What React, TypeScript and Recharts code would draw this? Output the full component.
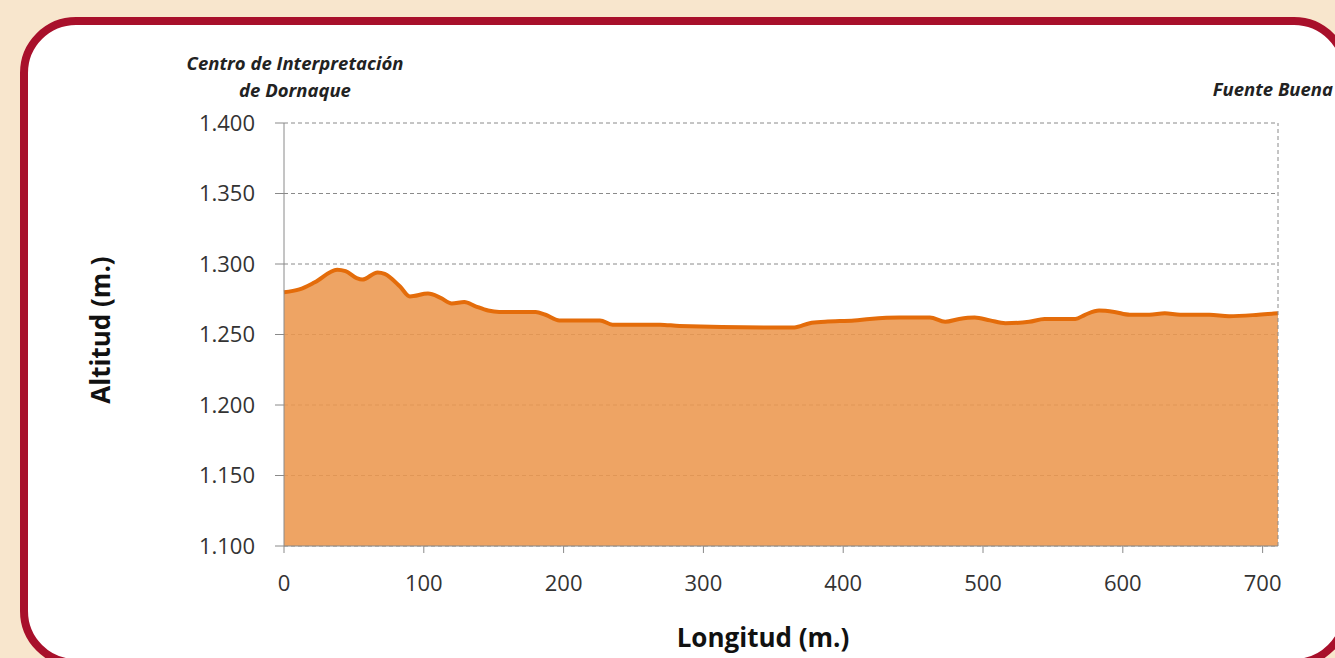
import {
  AreaChart,
  Area,
  XAxis,
  YAxis,
  CartesianGrid,
  ReferenceLine,
} from "recharts";

// distance along the route (m.)
const distance = [
  0, 11, 22, 38, 44, 52, 56, 67, 72, 83, 90, 103, 112, 120, 129, 137, 146,
  154, 180, 187, 197, 226, 235, 269, 283, 355, 365, 376, 387, 408, 419, 440,
  462, 473, 483, 494, 505, 516, 533, 544, 566, 573, 583, 594, 605, 619, 630,
  641, 662, 676, 697, 711,
];

// altitude at each point (m.)
const altitude = [
  1280, 1282, 1287, 1296, 1295, 1290, 1289, 1294, 1293, 1284, 1277, 1279,
  1276, 1272, 1273, 1270, 1267, 1266, 1266, 1264, 1260, 1260, 1257, 1257,
  1256, 1255, 1255, 1258, 1259, 1260, 1261, 1262, 1262, 1259, 1261, 1262,
  1260, 1258, 1259, 1261, 1261, 1264, 1267, 1266, 1264, 1264, 1265, 1264,
  1264, 1263, 1264, 1265,
];

const xTicks = [0, 100, 200, 300, 400, 500, 600, 700];
const yTicks = [1100, 1150, 1200, 1250, 1300, 1350, 1400];

const data = distance.map((d, i) => ({ d, alt: altitude[i] }));

const fmtThousands = (v: number) =>
  String(v).replace(/\B(?=(\d{3})+(?!\d))/g, ".");

const font = "'Open Sans', sans-serif";

export default function App() {
  return (
    <div
      style={{
        position: "absolute",
        left: 0,
        top: 0,
        width: 1335,
        height: 658,
        background: "#F8E6CD",
        overflow: "hidden",
        fontFamily: font,
      }}
    >
      <div
        style={{
          position: "absolute",
          left: 20,
          top: 17,
          width: 1330,
          height: 650,
          boxSizing: "border-box",
          border: "8px solid #A8102B",
          borderRadius: 56,
          background: "#fff",
        }}
      />

      <div style={{ position: "absolute", left: 0, top: 0 }}>
        <AreaChart
          width={1335}
          height={658}
          data={data}
          margin={{ top: 123, right: 57, bottom: 62, left: 0 }}
        >
          <CartesianGrid
            vertical={false}
            stroke="#8a8a8a"
            strokeDasharray="4 3"
          />
          <XAxis
            dataKey="d"
            type="number"
            domain={[0, 711]}
            ticks={xTicks}
            axisLine={{ stroke: "#8a8a8a" }}
            tickLine={{ stroke: "#8a8a8a" }}
            tickSize={7}
            tickMargin={22}
            tick={{ fill: "#333", fontSize: 22, fontFamily: font }}
            height={50}
          />
          <YAxis
            type="number"
            domain={[1100, 1400]}
            ticks={yTicks}
            tickFormatter={fmtThousands}
            axisLine={{ stroke: "#8a8a8a" }}
            tickLine={{ stroke: "#8a8a8a" }}
            tickSize={9}
            tickMargin={20}
            tick={{ fill: "#333", fontSize: 22, fontFamily: font }}
            width={284}
          />
          <Area
            type="monotone"
            dataKey="alt"
            stroke="#E46C0A"
            strokeWidth={4}
            fill="#EC974F"
            fillOpacity={0.88}
            isAnimationActive={false}
            dot={false}
            activeDot={false}
          />
          <ReferenceLine x={711} stroke="#8a8a8a" strokeDasharray="4 3" />
        </AreaChart>
      </div>

      <div
        style={{
          position: "absolute",
          left: 145,
          top: 49,
          width: 300,
          textAlign: "center",
          fontSize: 18.5,
          fontWeight: 700,
          fontStyle: "italic",
          lineHeight: "27px",
          color: "#222",
        }}
      >
        Centro de Interpretación
        <br />
        de Dornaque
      </div>
      <div
        style={{
          position: "absolute",
          right: 2,
          top: 75,
          fontSize: 18.5,
          fontWeight: 700,
          fontStyle: "italic",
          lineHeight: "27px",
          color: "#222",
        }}
      >
        Fuente Buena
      </div>

      <div
        style={{
          position: "absolute",
          left: 100,
          top: 330,
          transform: "translate(-50%, -50%) rotate(-90deg)",
          fontSize: 26,
          fontWeight: 700,
          color: "#111",
          whiteSpace: "nowrap",
        }}
      >
        Altitud (m.)
      </div>
      <div
        style={{
          position: "absolute",
          left: 763,
          top: 637,
          transform: "translate(-50%, -50%)",
          fontSize: 26,
          fontWeight: 700,
          color: "#111",
          whiteSpace: "nowrap",
        }}
      >
        Longitud (m.)
      </div>
    </div>
  );
}
